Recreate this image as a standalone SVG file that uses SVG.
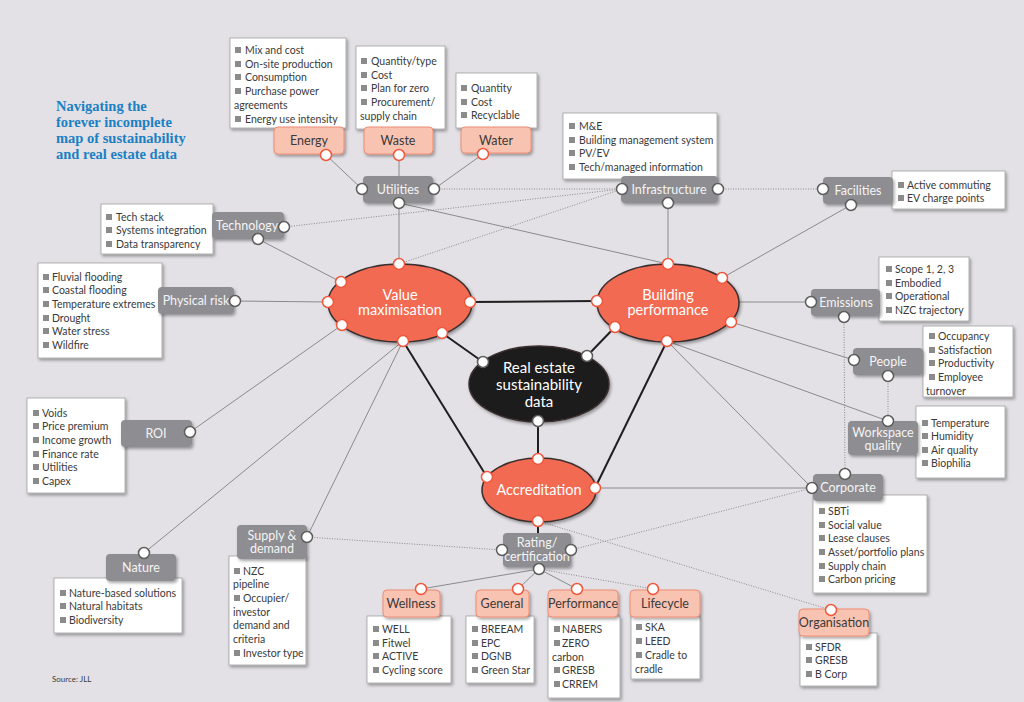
<svg xmlns="http://www.w3.org/2000/svg" xmlns:xlink="http://www.w3.org/1999/xlink" width="1024" height="702" viewBox="0 0 1024 702">
<defs>
<filter id="sh" x="-20%" y="-20%" width="140%" height="140%">
<feDropShadow dx="1.5" dy="2" stdDeviation="1.5" flood-color="#000" flood-opacity="0.35"/>
</filter>
<rect id="b" width="6" height="6" fill="#8b8b8b"/>
<style>
.box{fill:#fff;stroke:#a0a0a0;stroke-width:0.8;filter:url(#sh)}
.gn{fill:#8e8d91;filter:url(#sh)}
.sn{fill:#f9c3b2;stroke:#ef8b73;stroke-width:1;filter:url(#sh)}
.el{fill:#f26a51;stroke:#3b2f2f;stroke-width:1.5;filter:url(#sh)}
.li{font-family:Lato,"Liberation Sans",sans-serif;font-size:10.5px;fill:#3a3a3a}
.gl{font-family:Lato,"Liberation Sans",sans-serif;font-size:12.5px;fill:#f4f4f4;text-anchor:middle}
.sl{font-family:Lato,"Liberation Sans",sans-serif;font-size:12.5px;fill:#3a3a3a;text-anchor:middle}
.ell{font-family:Lato,"Liberation Sans",sans-serif;font-size:14.5px;fill:#fff;text-anchor:middle}
.pg{fill:#fff;stroke:#5c5c5c;stroke-width:1.5}
.po{fill:#fff;stroke:#f0573c;stroke-width:1.5}
.c1{stroke:#8a8a8a;stroke-width:1;fill:none}
.c2{stroke:#8a8a8a;stroke-width:1;stroke-dasharray:1 1.5;fill:none}
.c3{stroke:#1f1f1f;stroke-width:2;fill:none}
.title{font-family:"Liberation Serif",serif;font-weight:bold;font-size:14.5px;fill:#1a80c4}
</style>
</defs>
<rect width="1024" height="702" fill="#e3e1e6"/>

<g id="title">
<text class="title" x="56" y="111">Navigating the</text>
<text class="title" x="56" y="127">forever incomplete</text>
<text class="title" x="56" y="143">map of sustainability</text>
<text class="title" x="56" y="159">and real estate data</text>
</g>
<text x="52" y="682" font-family="Lato,'Liberation Sans',sans-serif" font-size="8" fill="#3a3a3a">Source: JLL</text>

<g id="connectors">
<line class="c1" x1="326" y1="155" x2="362" y2="189"/>
<line class="c1" x1="399" y1="155" x2="399" y2="176"/>
<line class="c1" x1="483" y1="154" x2="434" y2="189"/>
<line class="c1" x1="399" y1="203" x2="399" y2="264"/>
<line class="c1" x1="399" y1="203" x2="668" y2="264"/>
<line class="c1" x1="258" y1="239" x2="341" y2="282"/>
<line class="c1" x1="235" y1="301" x2="328" y2="302"/>
<line class="c1" x1="190" y1="432" x2="342" y2="325"/>
<line class="c1" x1="144" y1="553" x2="403" y2="341"/>
<line class="c1" x1="307" y1="537" x2="403" y2="341"/>
<line class="c1" x1="668" y1="203" x2="668" y2="264"/>
<line class="c1" x1="851" y1="205" x2="722" y2="278"/>
<line class="c1" x1="738" y1="302" x2="811" y2="302"/>
<line class="c1" x1="731" y1="322" x2="854" y2="360"/>
<line class="c1" x1="667" y1="341" x2="888" y2="421"/>
<line class="c1" x1="667" y1="341" x2="812" y2="488"/>
<line class="c1" x1="595" y1="488" x2="812" y2="488"/>
<line class="c1" x1="539" y1="569" x2="421" y2="589"/>
<line class="c1" x1="539" y1="569" x2="518" y2="589"/>
<line class="c1" x1="539" y1="569" x2="577" y2="589"/>
<line class="c2" x1="539" y1="569" x2="653" y2="589"/>
<line class="c2" x1="434" y1="189" x2="622" y2="189"/>
<line class="c2" x1="284" y1="227" x2="622" y2="189"/>
<line class="c2" x1="399" y1="264" x2="622" y2="189"/>
<line class="c2" x1="718" y1="189" x2="823" y2="189"/>
<line class="c2" x1="844" y1="317" x2="845" y2="474"/>
<line class="c2" x1="888" y1="376" x2="888" y2="421"/>
<line class="c2" x1="307" y1="537" x2="502" y2="550"/>
<line class="c2" x1="571" y1="550" x2="812" y2="488"/>
<line class="c2" x1="538" y1="521" x2="831" y2="610"/>
<line class="c3" x1="470" y1="302" x2="597" y2="301"/>
<line class="c3" x1="442" y1="333" x2="483" y2="362"/>
<line class="c3" x1="615" y1="327" x2="587" y2="356"/>
<line class="c3" x1="538" y1="421" x2="538" y2="459"/>
<line class="c3" x1="403" y1="341" x2="487" y2="477"/>
<line class="c3" x1="667" y1="341" x2="595" y2="488"/>
<line class="c3" x1="538" y1="521" x2="538" y2="533"/>
</g>

<g id="energy">
<rect class="box" x="230" y="38" width="116" height="90"/>
<use href="#b" x="235" y="47"/><text class="li" x="245" y="54">Mix and cost</text>
<use href="#b" x="235" y="61"/><text class="li" x="245" y="68">On-site production</text>
<use href="#b" x="235" y="74"/><text class="li" x="245" y="81">Consumption</text>
<use href="#b" x="235" y="88"/><text class="li" x="245" y="95">Purchase power</text>
<text class="li" x="234" y="109">agreements</text>
<use href="#b" x="235" y="116"/><text class="li" x="245" y="123">Energy use intensity</text>
<rect class="sn" x="274" y="127" width="70" height="27" rx="4"/>
<text class="sl" x="309" y="145">Energy</text>
<circle class="po" cx="326" cy="155" r="5.5"/>
</g>

<g id="waste">
<rect class="box" x="356" y="46" width="89" height="83"/>
<use href="#b" x="361" y="58"/><text class="li" x="371" y="65">Quantity/type</text>
<use href="#b" x="361" y="72"/><text class="li" x="371" y="79">Cost</text>
<use href="#b" x="361" y="85"/><text class="li" x="371" y="92">Plan for zero</text>
<use href="#b" x="361" y="99"/><text class="li" x="371" y="106">Procurement/</text>
<text class="li" x="360" y="120">supply chain</text>
<rect class="sn" x="364" y="127" width="69" height="27" rx="4"/>
<text class="sl" x="398" y="145">Waste</text>
<circle class="po" cx="399" cy="155" r="5.5"/>
</g>

<g id="water">
<rect class="box" x="456" y="73" width="81" height="55"/>
<use href="#b" x="461" y="85"/><text class="li" x="471" y="92">Quantity</text>
<use href="#b" x="461" y="99"/><text class="li" x="471" y="106">Cost</text>
<use href="#b" x="461" y="112"/><text class="li" x="471" y="119">Recyclable</text>
<rect class="sn" x="461" y="127" width="70" height="26" rx="4"/>
<text class="sl" x="496" y="145">Water</text>
<circle class="po" cx="483" cy="154" r="5.5"/>
</g>

<g id="utilities">
<rect class="gn" x="363" y="176" width="70" height="27" rx="4"/>
<text class="gl" x="398" y="194">Utilities</text>
<circle class="pg" cx="362" cy="189" r="5.5"/>
<circle class="pg" cx="434" cy="189" r="5.5"/>
<circle class="pg" cx="399" cy="203" r="5.5"/>
</g>

<g id="infrastructure">
<rect class="box" x="563" y="113" width="154" height="66"/>
<use href="#b" x="569" y="123"/><text class="li" x="579" y="130">M&amp;E</text>
<use href="#b" x="569" y="137"/><text class="li" x="579" y="144">Building management system</text>
<use href="#b" x="569" y="150"/><text class="li" x="579" y="157">PV/EV</text>
<use href="#b" x="569" y="164"/><text class="li" x="579" y="171">Tech/managed information</text>
<rect class="gn" x="621" y="176" width="97" height="27" rx="4"/>
<text class="gl" x="669" y="194">Infrastructure</text>
<circle class="pg" cx="622" cy="189" r="5.5"/>
<circle class="pg" cx="718" cy="189" r="5.5"/>
<circle class="pg" cx="668" cy="203" r="5.5"/>
</g>

<g id="facilities">
<rect class="box" x="892" y="171" width="113" height="38"/>
<use href="#b" x="898" y="182"/><text class="li" x="907" y="189">Active commuting</text>
<use href="#b" x="898" y="195"/><text class="li" x="907" y="202">EV charge points</text>
<rect class="gn" x="823" y="177" width="70" height="27" rx="4"/>
<text class="gl" x="858" y="195">Facilities</text>
<circle class="pg" cx="823" cy="189" r="5.5"/>
<circle class="pg" cx="851" cy="205" r="5.5"/>
</g>

<g id="technology">
<rect class="box" x="101" y="204" width="112" height="50"/>
<use href="#b" x="106" y="214"/><text class="li" x="116" y="221">Tech stack</text>
<use href="#b" x="106" y="227"/><text class="li" x="116" y="234">Systems integration</text>
<use href="#b" x="106" y="241"/><text class="li" x="116" y="248">Data transparency</text>
<rect class="gn" x="212" y="212" width="72" height="27" rx="4"/>
<text class="gl" x="247" y="230">Technology</text>
<circle class="pg" cx="284" cy="227" r="5.5"/>
<circle class="pg" cx="258" cy="239" r="5.5"/>
</g>

<g id="physical-risk">
<rect class="box" x="38" y="263" width="124" height="95"/>
<use href="#b" x="43" y="274"/><text class="li" x="52" y="281">Fluvial flooding</text>
<use href="#b" x="43" y="287"/><text class="li" x="52" y="294">Coastal flooding</text>
<use href="#b" x="43" y="301"/><text class="li" x="52" y="308">Temperature extremes</text>
<use href="#b" x="43" y="315"/><text class="li" x="52" y="322">Drought</text>
<use href="#b" x="43" y="328"/><text class="li" x="52" y="335">Water stress</text>
<use href="#b" x="43" y="342"/><text class="li" x="52" y="349">Wildfire</text>
<rect class="gn" x="158" y="287" width="76" height="27" rx="4"/>
<text class="gl" x="196" y="305">Physical risk</text>
<circle class="pg" cx="235" cy="301" r="5.5"/>
</g>

<g id="emissions">
<rect class="box" x="879" y="257" width="90" height="64"/>
<use href="#b" x="886" y="266"/><text class="li" x="895" y="273">Scope 1, 2, 3</text>
<use href="#b" x="886" y="280"/><text class="li" x="895" y="287">Embodied</text>
<use href="#b" x="886" y="293"/><text class="li" x="895" y="300">Operational</text>
<use href="#b" x="886" y="307"/><text class="li" x="895" y="314">NZC trajectory</text>
<rect class="gn" x="811" y="289" width="69" height="27" rx="4"/>
<text class="gl" x="846" y="307">Emissions</text>
<circle class="pg" cx="811" cy="302" r="5.5"/>
<circle class="pg" cx="844" cy="317" r="5.5"/>
</g>

<g id="people">
<rect class="box" x="923" y="326" width="90" height="71"/>
<use href="#b" x="929" y="333"/><text class="li" x="938" y="340">Occupancy</text>
<use href="#b" x="929" y="347"/><text class="li" x="938" y="354">Satisfaction</text>
<use href="#b" x="929" y="360"/><text class="li" x="938" y="367">Productivity</text>
<use href="#b" x="929" y="374"/><text class="li" x="938" y="381">Employee</text>
<text class="li" x="926" y="395">turnover</text>
<rect class="gn" x="853" y="348" width="70" height="27" rx="4"/>
<text class="gl" x="888" y="366">People</text>
<circle class="pg" cx="854" cy="360" r="5.5"/>
<circle class="pg" cx="888" cy="376" r="5.5"/>
</g>

<g id="workspace-quality">
<rect class="box" x="916" y="406" width="89" height="72"/>
<use href="#b" x="922" y="420"/><text class="li" x="931" y="427">Temperature</text>
<use href="#b" x="922" y="433"/><text class="li" x="931" y="440">Humidity</text>
<use href="#b" x="922" y="447"/><text class="li" x="931" y="454">Air quality</text>
<use href="#b" x="922" y="460"/><text class="li" x="931" y="467">Biophilia</text>
<rect class="gn" x="848" y="421" width="70" height="34" rx="4"/>
<text class="gl" x="883" y="437">Workspace</text>
<text class="gl" x="883" y="450">quality</text>
<circle class="pg" cx="888" cy="421" r="5.5"/>
</g>

<g id="corporate">
<rect class="box" x="813" y="495" width="114" height="98"/>
<use href="#b" x="819" y="508"/><text class="li" x="828" y="515">SBTi</text>
<use href="#b" x="819" y="522"/><text class="li" x="828" y="529">Social value</text>
<use href="#b" x="819" y="535"/><text class="li" x="828" y="542">Lease clauses</text>
<use href="#b" x="819" y="549"/><text class="li" x="828" y="556">Asset/portfolio plans</text>
<use href="#b" x="819" y="563"/><text class="li" x="828" y="570">Supply chain</text>
<use href="#b" x="819" y="576"/><text class="li" x="828" y="583">Carbon pricing</text>
<rect class="gn" x="813" y="474" width="70" height="27" rx="4"/>
<text class="gl" x="848" y="492">Corporate</text>
<circle class="pg" cx="845" cy="474" r="5.5"/>
<circle class="pg" cx="812" cy="488" r="5.5"/>
</g>

<g id="organisation">
<rect class="box" x="800" y="633" width="77" height="53"/>
<use href="#b" x="806" y="644"/><text class="li" x="815" y="651">SFDR</text>
<use href="#b" x="806" y="657"/><text class="li" x="815" y="664">GRESB</text>
<use href="#b" x="806" y="671"/><text class="li" x="815" y="678">B Corp</text>
<rect class="sn" x="799" y="609" width="70" height="27" rx="4"/>
<text class="sl" x="834" y="627">Organisation</text>
<circle class="po" cx="831" cy="610" r="5.5"/>
</g>

<g id="roi">
<rect class="box" x="27" y="398" width="98" height="95"/>
<use href="#b" x="33" y="410"/><text class="li" x="42" y="417">Voids</text>
<use href="#b" x="33" y="423"/><text class="li" x="42" y="430">Price premium</text>
<use href="#b" x="33" y="437"/><text class="li" x="42" y="444">Income growth</text>
<use href="#b" x="33" y="451"/><text class="li" x="42" y="458">Finance rate</text>
<use href="#b" x="33" y="464"/><text class="li" x="42" y="471">Utilities</text>
<use href="#b" x="33" y="478"/><text class="li" x="42" y="485">Capex</text>
<rect class="gn" x="121" y="420" width="71" height="27" rx="4"/>
<text class="gl" x="156" y="438">ROI</text>
<circle class="pg" cx="190" cy="432" r="5.5"/>
</g>

<g id="nature">
<rect class="box" x="54" y="578" width="128" height="55"/>
<use href="#b" x="60" y="590"/><text class="li" x="69" y="597">Nature-based solutions</text>
<use href="#b" x="60" y="603"/><text class="li" x="69" y="610">Natural habitats</text>
<use href="#b" x="60" y="617"/><text class="li" x="69" y="624">Biodiversity</text>
<rect class="gn" x="106" y="554" width="70" height="27" rx="4"/>
<text class="gl" x="141" y="572">Nature</text>
<circle class="pg" cx="144" cy="553" r="5.5"/>
</g>

<g id="supply-demand">
<rect class="box" x="229" y="556" width="77" height="109"/>
<use href="#b" x="234" y="568"/><text class="li" x="243" y="575">NZC</text>
<text class="li" x="233" y="588">pipeline</text>
<use href="#b" x="234" y="595"/><text class="li" x="243" y="602">Occupier/</text>
<text class="li" x="233" y="616">investor</text>
<text class="li" x="233" y="629">demand and</text>
<text class="li" x="233" y="643">criteria</text>
<use href="#b" x="234" y="650"/><text class="li" x="243" y="657">Investor type</text>
<rect class="gn" x="237" y="525" width="70" height="34" rx="4"/>
<text class="gl" x="272" y="540">Supply &amp;</text>
<text class="gl" x="272" y="553">demand</text>
<circle class="pg" cx="307" cy="537" r="5.5"/>
</g>

<g id="rating-certification">
<rect class="gn" x="503" y="533" width="68" height="34" rx="4"/>
<text class="gl" x="537" y="547">Rating/</text>
<text class="gl" x="537" y="561">certification</text>
<circle class="pg" cx="502" cy="550" r="5.5"/>
<circle class="pg" cx="571" cy="550" r="5.5"/>
<circle class="pg" cx="539" cy="569" r="5.5"/>
</g>

<g id="wellness">
<rect class="box" x="367" y="616" width="84" height="67"/>
<use href="#b" x="373" y="626"/><text class="li" x="382" y="633">WELL</text>
<use href="#b" x="373" y="640"/><text class="li" x="382" y="647">Fitwel</text>
<use href="#b" x="373" y="653"/><text class="li" x="382" y="660">ACTIVE</text>
<use href="#b" x="373" y="667"/><text class="li" x="382" y="674">Cycling score</text>
<rect class="sn" x="383" y="590" width="57" height="27" rx="4"/>
<text class="sl" x="411" y="608">Wellness</text>
<circle class="po" cx="421" cy="589" r="5.5"/>
</g>

<g id="general">
<rect class="box" x="466" y="616" width="68" height="67"/>
<use href="#b" x="472" y="626"/><text class="li" x="481" y="633">BREEAM</text>
<use href="#b" x="472" y="640"/><text class="li" x="481" y="647">EPC</text>
<use href="#b" x="472" y="653"/><text class="li" x="481" y="660">DGNB</text>
<use href="#b" x="472" y="667"/><text class="li" x="481" y="674">Green Star</text>
<rect class="sn" x="476" y="590" width="53" height="27" rx="4"/>
<text class="sl" x="502" y="608">General</text>
<circle class="po" cx="518" cy="589" r="5.5"/>
</g>

<g id="performance">
<rect class="box" x="548" y="616" width="72" height="82"/>
<use href="#b" x="554" y="626"/><text class="li" x="562" y="633">NABERS</text>
<use href="#b" x="554" y="640"/><text class="li" x="562" y="647">ZERO</text>
<text class="li" x="552" y="661">carbon</text>
<use href="#b" x="554" y="667"/><text class="li" x="562" y="674">GRESB</text>
<use href="#b" x="554" y="681"/><text class="li" x="562" y="688">CRREM</text>
<rect class="sn" x="548" y="590" width="70" height="27" rx="4"/>
<text class="sl" x="583" y="608">Performance</text>
<circle class="po" cx="577" cy="589" r="5.5"/>
</g>

<g id="lifecycle">
<rect class="box" x="631" y="616" width="69" height="63"/>
<use href="#b" x="636" y="624"/><text class="li" x="645" y="631">SKA</text>
<use href="#b" x="636" y="638"/><text class="li" x="645" y="645">LEED</text>
<use href="#b" x="636" y="652"/><text class="li" x="645" y="659">Cradle to</text>
<text class="li" x="635" y="673">cradle</text>
<rect class="sn" x="630" y="590" width="70" height="27" rx="4"/>
<text class="sl" x="665" y="608">Lifecycle</text>
<circle class="po" cx="653" cy="589" r="5.5"/>
</g>

<g id="value-maximisation">
<ellipse class="el" cx="400" cy="303" rx="72" ry="39"/>
<text class="ell" x="400" y="300">Value</text>
<text class="ell" x="400" y="315">maximisation</text>
<circle class="po" cx="399" cy="264" r="5.5"/>
<circle class="po" cx="341" cy="282" r="5.5"/>
<circle class="po" cx="328" cy="302" r="5.5"/>
<circle class="po" cx="470" cy="302" r="5.5"/>
<circle class="po" cx="342" cy="325" r="5.5"/>
<circle class="po" cx="442" cy="333" r="5.5"/>
<circle class="po" cx="403" cy="341" r="5.5"/>
</g>

<g id="building-performance">
<ellipse class="el" cx="668" cy="303" rx="71" ry="39"/>
<text class="ell" x="668" y="300">Building</text>
<text class="ell" x="668" y="315">performance</text>
<circle class="po" cx="668" cy="264" r="5.5"/>
<circle class="po" cx="722" cy="278" r="5.5"/>
<circle class="po" cx="597" cy="301" r="5.5"/>
<circle class="po" cx="731" cy="322" r="5.5"/>
<circle class="po" cx="615" cy="327" r="5.5"/>
<circle class="po" cx="667" cy="341" r="5.5"/>
</g>

<g id="real-estate-data">
<ellipse cx="539" cy="384" rx="70" ry="38" fill="#1e1a1b" stroke="#3b2f2f" stroke-width="1.5" filter="url(#sh)"/>
<text class="ell" x="539" y="373" style="font-size:15px">Real estate</text>
<text class="ell" x="539" y="390" style="font-size:15px">sustainability</text>
<text class="ell" x="539" y="407" style="font-size:15px">data</text>
<circle class="pg" cx="483" cy="362" r="5.5"/>
<circle class="pg" cx="587" cy="356" r="5.5"/>
<circle class="pg" cx="538" cy="421" r="5.5"/>
</g>

<g id="accreditation">
<ellipse class="el" cx="539" cy="490" rx="57" ry="32"/>
<text class="ell" x="539" y="495">Accreditation</text>
<circle class="po" cx="538" cy="459" r="5.5"/>
<circle class="po" cx="487" cy="477" r="5.5"/>
<circle class="po" cx="595" cy="488" r="5.5"/>
<circle class="po" cx="538" cy="521" r="5.5"/>
</g>
</svg>
